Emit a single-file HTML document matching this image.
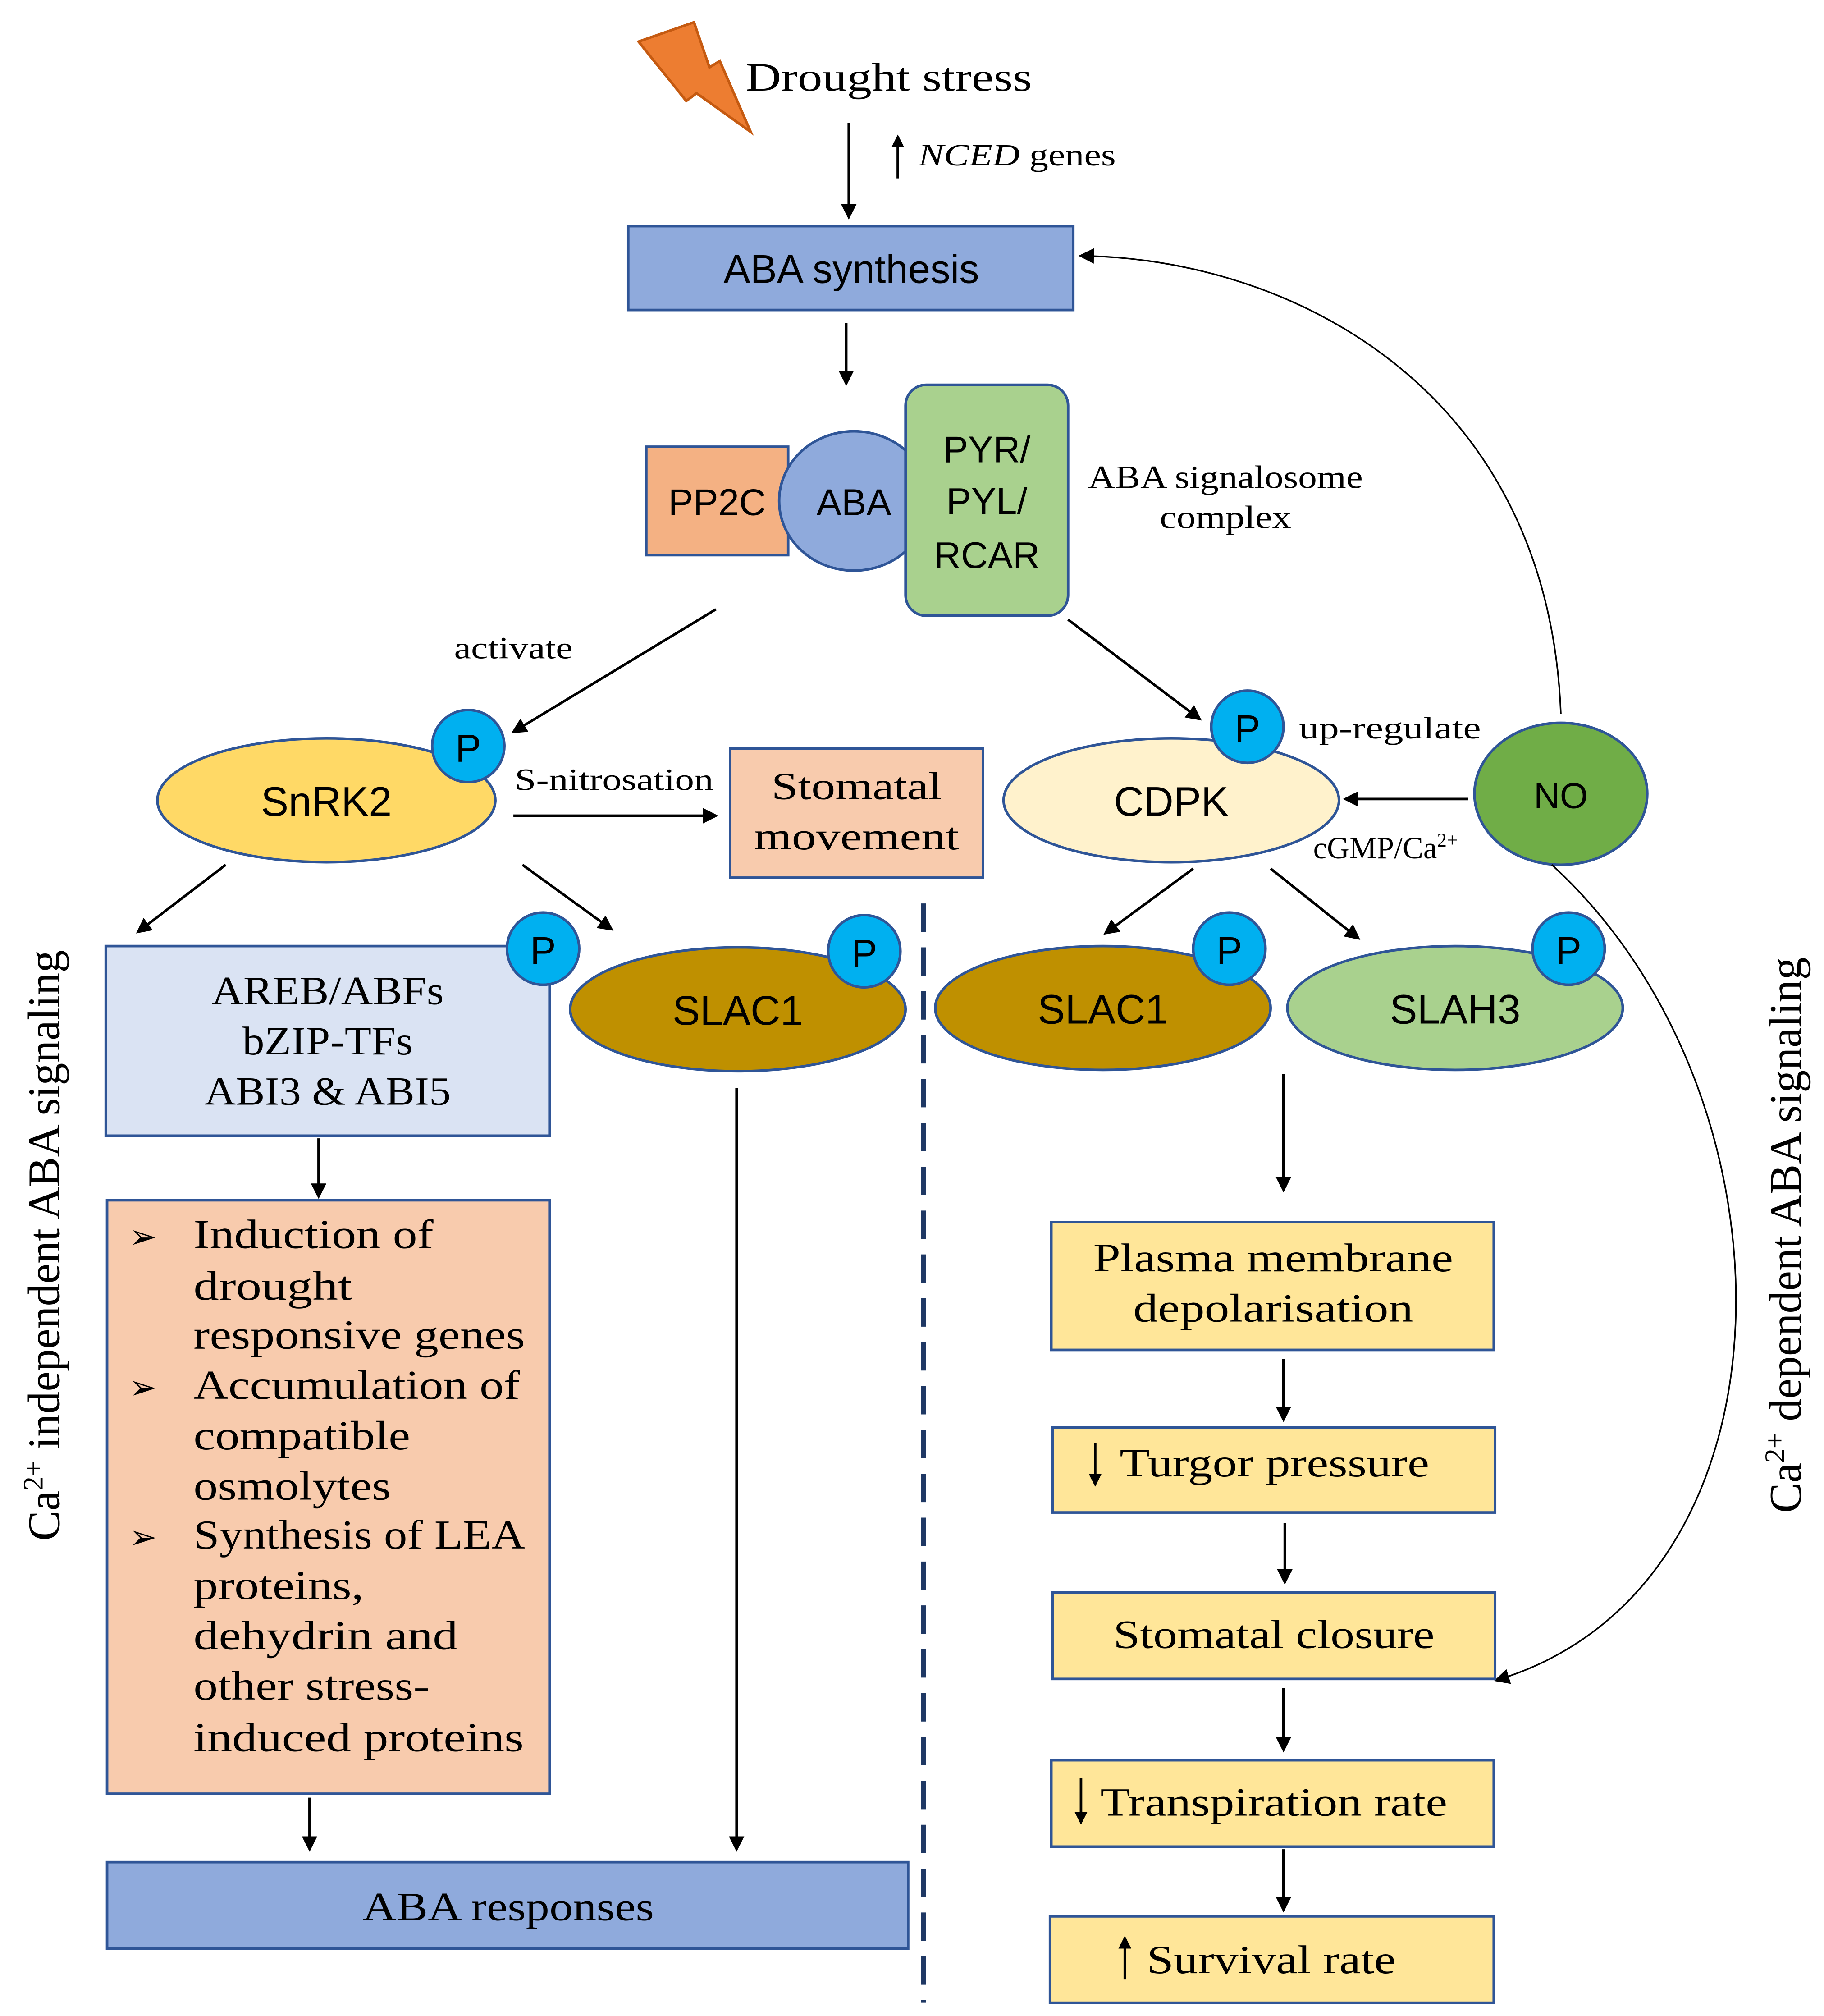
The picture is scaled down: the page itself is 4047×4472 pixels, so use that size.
<!DOCTYPE html>
<html><head><meta charset="utf-8"><style>
html,body{margin:0;padding:0;background:#fff;}
svg{display:block;}
.s{font-family:"Liberation Sans",sans-serif;}
.r{font-family:"Liberation Serif",serif;}
</style></head><body>
<svg width="4047" height="4472" viewBox="0 0 1414 1562" xmlns="http://www.w3.org/2000/svg">
<defs>
<marker id="a" markerWidth="10" markerHeight="10" refX="8" refY="5" orient="auto" markerUnits="userSpaceOnUse"><path d="M0,0 L10,5 L0,10 z" fill="#000"/></marker>
<marker id="b" markerWidth="12" markerHeight="12" refX="10" refY="6" orient="auto" markerUnits="userSpaceOnUse"><path d="M0,0 L12,6 L0,12 z" fill="#000"/></marker>
</defs>
<rect width="1414" height="1562" fill="#fff"/>
<path d="M495,32 L538,17 L550,52 L558,47 L582,102 L540,72 L532,78 Z" fill="#ed7d31" stroke="#c55a11" stroke-width="2"/>
<text x="578" y="70" class="r" font-size="31" textLength="222" lengthAdjust="spacingAndGlyphs">Drought stress</text>
<line x1="658" y1="95" x2="658" y2="168" stroke="#000" stroke-width="2" marker-end="url(#b)"/>
<line x1="696" y1="138" x2="696" y2="106" stroke="#000" stroke-width="2" marker-end="url(#a)"/>
<text x="712" y="128" class="r" font-size="24" textLength="153" lengthAdjust="spacingAndGlyphs"><tspan font-style="italic">NCED</tspan> genes</text>
<rect x="487" y="175" width="345" height="65" fill="#8faadc" stroke="#2f5597" stroke-width="2"/>
<text x="660" y="219" class="s" font-size="31" text-anchor="middle">ABA synthesis</text>
<line x1="656" y1="250" x2="656" y2="297" stroke="#000" stroke-width="2" marker-end="url(#b)"/>
<rect x="501" y="346" width="110" height="84" fill="#f4b183" stroke="#2f5597" stroke-width="2"/>
<ellipse cx="662" cy="388" rx="58" ry="54" fill="#8faadc" stroke="#2f5597" stroke-width="2"/>
<rect x="702" y="298" width="126" height="179" rx="16" fill="#a9d18e" stroke="#2f5597" stroke-width="2"/>
<text x="556" y="399" class="s" font-size="29" text-anchor="middle">PP2C</text>
<text x="662" y="399" class="s" font-size="29" text-anchor="middle">ABA</text>
<text x="765" y="358" class="s" font-size="29" text-anchor="middle">PYR/</text>
<text x="765" y="398" class="s" font-size="29" text-anchor="middle">PYL/</text>
<text x="765" y="440" class="s" font-size="29" text-anchor="middle">RCAR</text>
<text x="950" y="378" class="r" font-size="25" text-anchor="middle" textLength="213" lengthAdjust="spacingAndGlyphs">ABA signalosome</text>
<text x="950" y="409" class="r" font-size="25" text-anchor="middle" textLength="102" lengthAdjust="spacingAndGlyphs">complex</text>
<line x1="555" y1="472" x2="398" y2="567" stroke="#000" stroke-width="2" marker-end="url(#b)"/>
<text x="398" y="510" class="r" font-size="24" text-anchor="middle" textLength="92" lengthAdjust="spacingAndGlyphs">activate</text>
<line x1="828" y1="480" x2="930" y2="557" stroke="#000" stroke-width="2" marker-end="url(#b)"/>
<ellipse cx="253" cy="620" rx="131" ry="48" fill="#ffd966" stroke="#2f5597" stroke-width="2"/>
<text x="253" y="632" class="s" font-size="32" text-anchor="middle">SnRK2</text>
<circle cx="363" cy="578" r="28" fill="#00b0f0" stroke="#2f5597" stroke-width="2"/>
<text x="363" y="590" class="s" font-size="30" text-anchor="middle">P</text>
<text x="399" y="612" class="r" font-size="24" textLength="154" lengthAdjust="spacingAndGlyphs">S-nitrosation</text>
<line x1="398" y1="632" x2="555" y2="632" stroke="#000" stroke-width="2" marker-end="url(#b)"/>
<rect x="566" y="580" width="196" height="100" fill="#f8cbad" stroke="#2f5597" stroke-width="2"/>
<text x="664" y="619" class="r" font-size="30" text-anchor="middle" textLength="132" lengthAdjust="spacingAndGlyphs">Stomatal</text>
<text x="664" y="658" class="r" font-size="30" text-anchor="middle" textLength="159" lengthAdjust="spacingAndGlyphs">movement</text>
<ellipse cx="908" cy="620" rx="130" ry="48" fill="#fff2cc" stroke="#2f5597" stroke-width="2"/>
<text x="908" y="632" class="s" font-size="32" text-anchor="middle">CDPK</text>
<circle cx="967" cy="563" r="28" fill="#00b0f0" stroke="#2f5597" stroke-width="2"/>
<text x="967" y="575" class="s" font-size="30" text-anchor="middle">P</text>
<text x="1007" y="572" class="r" font-size="24" textLength="141" lengthAdjust="spacingAndGlyphs">up-regulate</text>
<ellipse cx="1210" cy="615" rx="67" ry="55" fill="#70ad47" stroke="#2f5597" stroke-width="2"/>
<text x="1210" y="626" class="s" font-size="28" text-anchor="middle">NO</text>
<line x1="1138" y1="619" x2="1043" y2="619" stroke="#000" stroke-width="2" marker-end="url(#b)"/>
<text x="1018" y="665" class="r" font-size="24">cGMP/Ca<tspan font-size="15" dy="-9">2+</tspan></text>
<path d="M1210,553 C1200,300 1000,200 838,198" fill="none" stroke="#000" stroke-width="1.2" marker-end="url(#b)"/>
<path d="M1203,670 C1400,850 1400,1230 1160,1302" fill="none" stroke="#000" stroke-width="1.2" marker-end="url(#b)"/>
<line x1="175" y1="670" x2="107" y2="722" stroke="#000" stroke-width="2" marker-end="url(#b)"/>
<line x1="405" y1="670" x2="474" y2="720" stroke="#000" stroke-width="2" marker-end="url(#b)"/>
<line x1="925" y1="673" x2="857" y2="723" stroke="#000" stroke-width="2" marker-end="url(#b)"/>
<line x1="985" y1="673" x2="1053" y2="727" stroke="#000" stroke-width="2" marker-end="url(#b)"/>
<rect x="82" y="733" width="344" height="147" fill="#dae3f3" stroke="#2f5597" stroke-width="2"/>
<text x="254" y="778" class="r" font-size="31" text-anchor="middle" textLength="180" lengthAdjust="spacingAndGlyphs">AREB/ABFs</text>
<text x="254" y="817" class="r" font-size="31" text-anchor="middle" textLength="132" lengthAdjust="spacingAndGlyphs">bZIP-TFs</text>
<text x="254" y="856" class="r" font-size="31" text-anchor="middle" textLength="191" lengthAdjust="spacingAndGlyphs">ABI3 &amp; ABI5</text>
<circle cx="421" cy="735" r="28" fill="#00b0f0" stroke="#2f5597" stroke-width="2"/>
<text x="421" y="747" class="s" font-size="30" text-anchor="middle">P</text>
<ellipse cx="572" cy="782" rx="130" ry="48" fill="#bf9000" stroke="#2f5597" stroke-width="2"/>
<text x="572" y="794" class="s" font-size="32" text-anchor="middle">SLAC1</text>
<circle cx="670" cy="737" r="28" fill="#00b0f0" stroke="#2f5597" stroke-width="2"/>
<text x="670" y="749" class="s" font-size="30" text-anchor="middle">P</text>
<line x1="716" y1="700" x2="716" y2="1552" stroke="#1f3864" stroke-width="4" stroke-dasharray="22,12"/>
<ellipse cx="855" cy="781" rx="130" ry="48" fill="#bf9000" stroke="#2f5597" stroke-width="2"/>
<text x="855" y="793" class="s" font-size="32" text-anchor="middle">SLAC1</text>
<circle cx="953" cy="735" r="28" fill="#00b0f0" stroke="#2f5597" stroke-width="2"/>
<text x="953" y="747" class="s" font-size="30" text-anchor="middle">P</text>
<ellipse cx="1128" cy="781" rx="130" ry="48" fill="#a9d18e" stroke="#2f5597" stroke-width="2"/>
<text x="1128" y="793" class="s" font-size="32" text-anchor="middle">SLAH3</text>
<circle cx="1216" cy="735" r="28" fill="#00b0f0" stroke="#2f5597" stroke-width="2"/>
<text x="1216" y="747" class="s" font-size="30" text-anchor="middle">P</text>
<line x1="247" y1="882" x2="247" y2="927" stroke="#000" stroke-width="2" marker-end="url(#b)"/>
<rect x="83" y="930" width="343" height="460" fill="#f8cbad" stroke="#2f5597" stroke-width="2"/>
<g class="r" font-size="32">
<text x="100" y="967" font-size="26">➢</text><text x="150" y="967" textLength="186" lengthAdjust="spacingAndGlyphs">Induction of</text>
<text x="150" y="1007" textLength="123" lengthAdjust="spacingAndGlyphs">drought</text>
<text x="150" y="1045" textLength="257" lengthAdjust="spacingAndGlyphs">responsive genes</text>
<text x="100" y="1084" font-size="26">➢</text><text x="150" y="1084" textLength="253" lengthAdjust="spacingAndGlyphs">Accumulation of</text>
<text x="150" y="1123" textLength="168" lengthAdjust="spacingAndGlyphs">compatible</text>
<text x="150" y="1162" textLength="153" lengthAdjust="spacingAndGlyphs">osmolytes</text>
<text x="100" y="1200" font-size="26">➢</text><text x="150" y="1200" textLength="257" lengthAdjust="spacingAndGlyphs">Synthesis of LEA</text>
<text x="150" y="1239" textLength="132" lengthAdjust="spacingAndGlyphs">proteins,</text>
<text x="150" y="1278" textLength="205" lengthAdjust="spacingAndGlyphs">dehydrin and</text>
<text x="150" y="1317" textLength="183" lengthAdjust="spacingAndGlyphs">other stress-</text>
<text x="150" y="1357" textLength="256" lengthAdjust="spacingAndGlyphs">induced proteins</text>
</g>
<line x1="240" y1="1393" x2="240" y2="1433" stroke="#000" stroke-width="2" marker-end="url(#b)"/>
<line x1="571" y1="843" x2="571" y2="1433" stroke="#000" stroke-width="2" marker-end="url(#b)"/>
<rect x="83" y="1443" width="621" height="67" fill="#8faadc" stroke="#2f5597" stroke-width="2"/>
<text x="394" y="1488" class="r" font-size="31" text-anchor="middle" textLength="226" lengthAdjust="spacingAndGlyphs">ABA responses</text>
<line x1="995" y1="832" x2="995" y2="922" stroke="#000" stroke-width="2" marker-end="url(#b)"/>
<rect x="815" y="947" width="343" height="99" fill="#ffe699" stroke="#2f5597" stroke-width="2"/>
<text x="987" y="985" class="r" font-size="31" text-anchor="middle" textLength="279" lengthAdjust="spacingAndGlyphs">Plasma membrane</text>
<text x="987" y="1024" class="r" font-size="31" text-anchor="middle" textLength="217" lengthAdjust="spacingAndGlyphs">depolarisation</text>
<line x1="995" y1="1053" x2="995" y2="1100" stroke="#000" stroke-width="2" marker-end="url(#b)"/>
<rect x="816" y="1106" width="343" height="66" fill="#ffe699" stroke="#2f5597" stroke-width="2"/>
<text x="868" y="1144" class="r" font-size="31" textLength="240" lengthAdjust="spacingAndGlyphs">Turgor pressure</text>
<line x1="849" y1="1118" x2="849" y2="1150" stroke="#000" stroke-width="2" marker-end="url(#a)"/>
<line x1="996" y1="1180" x2="996" y2="1226" stroke="#000" stroke-width="2" marker-end="url(#b)"/>
<rect x="816" y="1234" width="343" height="67" fill="#ffe699" stroke="#2f5597" stroke-width="2"/>
<text x="863" y="1277" class="r" font-size="31" textLength="249" lengthAdjust="spacingAndGlyphs">Stomatal closure</text>
<line x1="995" y1="1308" x2="995" y2="1356" stroke="#000" stroke-width="2" marker-end="url(#b)"/>
<rect x="815" y="1364" width="343" height="67" fill="#ffe699" stroke="#2f5597" stroke-width="2"/>
<text x="853" y="1407" class="r" font-size="31" textLength="269" lengthAdjust="spacingAndGlyphs">Transpiration rate</text>
<line x1="838" y1="1378" x2="838" y2="1412" stroke="#000" stroke-width="2" marker-end="url(#a)"/>
<line x1="995" y1="1433" x2="995" y2="1480" stroke="#000" stroke-width="2" marker-end="url(#b)"/>
<rect x="814" y="1485" width="344" height="67" fill="#ffe699" stroke="#2f5597" stroke-width="2"/>
<text x="889" y="1529" class="r" font-size="31" textLength="193" lengthAdjust="spacingAndGlyphs">Survival rate</text>
<line x1="872" y1="1534" x2="872" y2="1502" stroke="#000" stroke-width="2" marker-end="url(#a)"/>
<text transform="translate(46,965) rotate(-90)" class="r" font-size="35" text-anchor="middle">Ca<tspan font-size="22" dy="-13">2+</tspan><tspan dy="13"> independent ABA signaling</tspan></text>
<text transform="translate(1396,957) rotate(-90)" class="r" font-size="35" text-anchor="middle">Ca<tspan font-size="22" dy="-13">2+</tspan><tspan dy="13"> dependent ABA signaling</tspan></text>
</svg>
</body></html>
